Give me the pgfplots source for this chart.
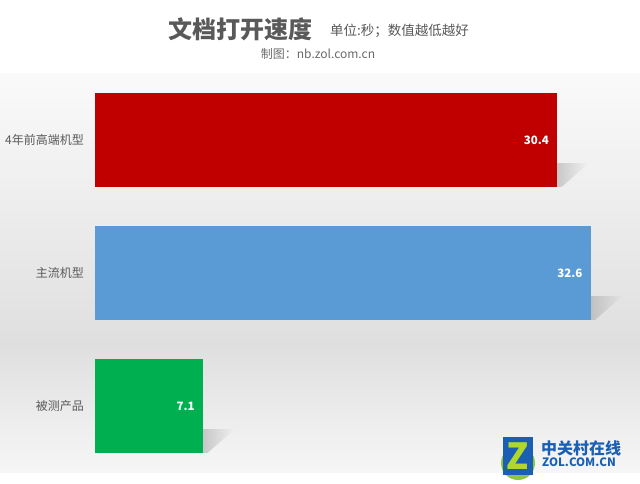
\documentclass[border=0pt]{standalone}
\usepackage{pgfplots}
\pgfplotsset{compat=1.18}
\usepackage{fontspec}
\setmainfont{Noto Sans CJK SC}
\definecolor{cred}{HTML}{C00000}
\definecolor{cblue}{HTML}{5B9BD5}
\definecolor{cgreen}{HTML}{00B050}
\definecolor{ctext}{HTML}{595959}
\definecolor{csub}{HTML}{6A6A6A}
\definecolor{zolblue}{HTML}{1A5FB4}
\definecolor{zolgreen}{HTML}{8DC63F}
\definecolor{bgA}{HTML}{F6F6F6}
\definecolor{bgB}{HTML}{DFDFDF}
\definecolor{bgC}{HTML}{FAFAFA}
\pgfdeclareverticalshading{bgband}{100bp}{color(0bp)=(bgA); color(25bp)=(bgA); color(41bp)=(bgB); color(75bp)=(bgC); color(100bp)=(bgC)}
\begin{document}
\begin{tikzpicture}[x=1pt,y=1pt]
\begin{scope}[shift={(-95,-11.5)}]
\fill[white] (0,0) rectangle (640,484);
\shade[shading=bgband] (0,11.5) rectangle (640,410.5);
\end{scope}
\begin{axis}[
  scale only axis, width=525pt, height=399pt,
  xmin=0, xmax=34.54, ymin=-0.5, ymax=2.5,
  clip=false,
  axis line style={draw=none},
  tick style={draw=none},
  xtick=\empty,
  ytick={0,1,2},
  yticklabels={被测产品,主流机型,4年前高端机型},
  yticklabel style={font=\fontsize{12}{14}\selectfont, text=ctext, inner sep=0pt, xshift=-11pt},
  bar width=94pt,
  /pgf/number format/assume math mode=true,
]
% soft perspective shadows behind the bars
\addplot[draw=none, left color=black!28, right color=black!5, forget plot] coordinates {(29.6,1.647) (30.7,1.647) (32.5,1.827) (29.6,1.827) (29.6,1.647)};
\addplot[draw=none, left color=black!30, right color=black!11, forget plot] coordinates {(31.8,0.647) (32.9,0.647) (34.7,0.827) (31.8,0.827) (31.8,0.647)};
\addplot[draw=none, left color=black!28, right color=black!6, forget plot] coordinates {(6.3,-0.353) (7.4,-0.353) (9.2,-0.173) (6.3,-0.173) (6.3,-0.353)};
% bars
\addplot[xbar, bar shift=0pt, fill=cred, draw=none,
  nodes near coords,
  nodes near coords style={anchor=east, inner sep=0pt, xshift=-8pt, text=white, font=\bfseries\fontsize{11.5}{13}\selectfont}]
  coordinates {(30.4,2)};
\addplot[xbar, bar shift=0pt, fill=cblue, draw=none,
  nodes near coords,
  nodes near coords style={anchor=east, inner sep=0pt, xshift=-8pt, text=white, font=\bfseries\fontsize{11.5}{13}\selectfont}]
  coordinates {(32.6,1)};
\addplot[xbar, bar shift=0pt, fill=cgreen, draw=none,
  nodes near coords,
  nodes near coords style={anchor=east, inner sep=0pt, xshift=-8pt, text=white, font=\bfseries\fontsize{11.5}{13}\selectfont}]
  coordinates {(7.1,0)};
\end{axis}
\begin{scope}[shift={(-95,-11.5)}]
% titles
\node[anchor=west, inner sep=0pt, text=ctext, font=\bfseries\fontsize{24}{24}\selectfont] at (168,455) {文档打开速度};
\node[anchor=west, inner sep=0pt, text=ctext, font=\fontsize{13.5}{14}\selectfont] at (330,453) {单位:秒；数值越低越好};
\node[inner sep=0pt, text=csub, font=\fontsize{12}{13}\selectfont] at (318,430) {制图：nb.zol.com.cn};
% watermark logo
\fill[zolgreen] (518,21) circle (17);
\fill[zolblue] (503,9) rectangle (533,47);
\node[inner sep=0pt, text=zolgreen!70!yellow, font=\bfseries\fontsize{36}{36}\selectfont] at (518,28) {Z};
\node[anchor=west, inner sep=0pt, text=zolblue, font=\bfseries\fontsize{16}{16}\selectfont] at (541,36) {中关村在线};
\node[anchor=west, inner sep=0pt, text=zolblue, font=\bfseries\fontsize{11.5}{12}\selectfont] at (542,22) {ZOL.COM.CN};
\pgfresetboundingbox
\path (0,0) rectangle (640,484);
\end{scope}
\end{tikzpicture}
\end{document}
